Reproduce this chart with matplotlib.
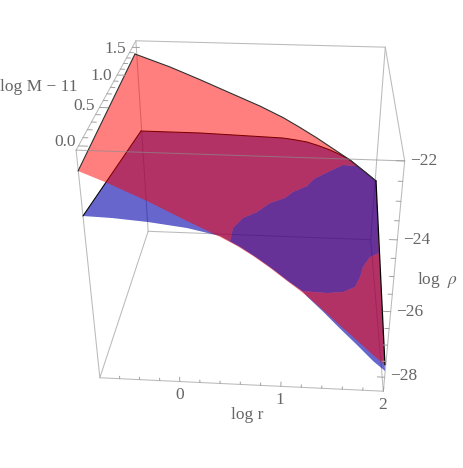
import numpy as np
import matplotlib
matplotlib.use('Agg')
import matplotlib.pyplot as plt
from mpl_toolkits.mplot3d.art3d import Poly3DCollection

plt.rcParams['font.family'] = ['Liberation Serif', 'DejaVu Serif']
plt.rcParams['mathtext.fontset'] = 'stix'

# ---- data: log r, log M - 11, log rho along the outlines of both surfaces ----
red_hi_r = [-0.81,-0.416,-0.077,0.266,0.611,0.879,1.08,1.282,1.499,1.682,1.868,2.006]
red_hi_h = [-22.356,-22.727,-23.096,-23.487,-23.878,-24.225,-24.534,-24.862,-25.243,-25.564,-25.956,-26.253]
red_lo_r = [-0.812,-0.582,-0.219,0.13,0.424,0.576,0.721,0.877,1.034,1.223,1.377,1.544,1.713,1.875,1.996]
red_lo_h = [-22.563,-22.819,-23.272,-23.761,-24.154,-24.381,-24.639,-24.954,-25.301,-25.709,-26.098,-26.536,-26.967,-27.391,-27.683]
blue_hi_r = [-0.798,-0.096,0.496,0.884,1.025,1.167,1.30,1.441,1.56,1.682,1.868,2.006]
blue_hi_h = [-24.814,-24.818,-24.866,-24.899,-24.945,-25.006,-25.112,-25.248,-25.39,-25.564,-25.956,-26.253]
blue_lo_r = [-0.81,-0.547,-0.223,0.128,0.424,0.603,0.748,0.895,1.044,1.223,1.378,1.545,1.716,1.88,2.002]
blue_lo_h = [-23.73,-23.755,-23.826,-23.948,-24.129,-24.405,-24.672,-24.97,-25.302,-25.723,-26.144,-26.628,-27.104,-27.578,-27.873]
M_high = 1.6
M_low = -0.03
# where the blue surface rises above the red one
over_top_r = [0.513,0.505,0.581,0.703,0.818,0.962,1.04,1.186,1.26,1.419,1.599,1.773]
over_top_m = [-0.03,0.2,0.338,0.467,0.626,0.766,0.878,1.034,1.161,1.345,1.548,1.647]
over_top_h = [-24.267,-24.498,-24.555,-24.691,-24.801,-24.969,-25.042,-25.203,-25.263,-25.432,-25.628,-25.863]
over_bot_r = [1.98,1.874,1.791,1.754,1.697,1.572,1.413,1.279,1.175,1.044,0.895,0.748,0.603]
over_bot_m = [0.777,0.68,0.539,0.425,0.306,0.198,0.11,0.051,0.007,-0.03,-0.03,-0.03,-0.03]
over_bot_h = [-26.62,-26.495,-26.427,-26.421,-26.386,-26.235,-26.02,-25.829,-25.682,-25.302,-24.97,-24.672,-24.405]

r_major = [0, 1, 2]
m_major = [0.0, 0.5, 1.0, 1.5]
h_major = [-22, -24, -26, -28]
r_minor = [-0.6,-0.4,-0.2,0.2,0.4,0.6,0.8,1.2,1.4,1.6,1.8]
m_minor = [0.1,0.2,0.3,0.4,0.6,0.7,0.8,0.9,1.1,1.2,1.3,1.4]
h_minor = [-22.5,-23,-23.5,-24.5,-25,-25.5,-26.5,-27,-27.5]

R0, R1, M0, M1, H0, H1 = -0.8, 2.0, -0.05, 1.63, -28.45, -22.0

# ---- layout: where the box corners sit in the picture (camera calibration) ----
W, H = 463, 468
corner_px = {(R0,M0,H1):(76,150),(R1,M0,H1):(405,161),(R1,M1,H1):(385,47),(R0,M1,H1):(136,41),
             (R0,M0,H0):(100,378),(R1,M0,H0):(383,391),(R0,M1,H0):(148,231),(R1,M1,H0):(371,240)}
rows = []
for (x, y, z), (u, v) in corner_px.items():
    rows.append([x,y,z,1,0,0,0,0,-u*x,-u*y,-u*z,-u])
    rows.append([0,0,0,0,x,y,z,1,-v*x,-v*y,-v*z,-v])
CAM = np.linalg.svd(np.array(rows, float))[2][-1].reshape(3, 4)
NULL = np.linalg.svd(CAM)[2][-1]

fig = plt.figure(figsize=(W/100, H/100), dpi=100, facecolor='white')
ax = fig.add_axes([0, 0, 1, 1], projection='3d')
ax.set_axis_off()
ax.set_proj_type('ortho')
ax.computed_zorder = False
ax.set_xlim(R0, R1); ax.set_ylim(M0, M1); ax.set_zlim(H0, H1)
ax.set_autoscale_on(False)

def camera_proj():
    ax.apply_aspect()
    inv = ax.transData.inverted()
    (x0, y0), (x1, y1) = inv.transform([(0, H), (W, 0)])  # pixel (0,0) and (W,H)
    a, b = (x1-x0)/W, x0
    c, d = (y1-y0)/H, y0
    return np.array([a*CAM[0]+b*CAM[2], c*CAM[1]+d*CAM[2], NULL, CAM[2]])
ax.get_proj = camera_proj

def poly(r, m, h, color, alpha, z):
    pc = Poly3DCollection([list(zip(r, m, h))], facecolors=[matplotlib.colors.to_rgba(color, alpha)],
                          edgecolors='none', linewidths=0, zorder=z)
    ax.add_collection3d(pc, autolim=False)

def line(r, m, h, color='#b0b0b0', lw=0.8, z=1, alpha=1.0):
    ax.plot(r, m, h, color=color, lw=lw, zorder=z, alpha=alpha, solid_capstyle='round')

# back and side edges of the box
edge_color = '#bababa'
for a, b in [((R0,M1,H1),(R1,M1,H1)), ((R0,M1,H1),(R0,M0,H1)), ((R1,M1,H1),(R1,M0,H1)),
             ((R0,M1,H1),(R0,M1,H0)), ((R1,M1,H1),(R1,M1,H0)), ((R0,M1,H0),(R1,M1,H0)),
             ((R0,M1,H0),(R0,M0,H0)), ((R1,M1,H0),(R1,M0,H0)), ((R0,M0,H1),(R0,M0,H0)),
             ((R1,M0,H1),(R1,M0,H0)), ((R0,M0,H0),(R1,M0,H0))]:
    line(*zip(a, b), color=edge_color, lw=0.75, z=1)

RED, BLUE = (1, 0, 0), (0, 0, 0.667)
A_RED, A_BLUE = 0.5, 0.6

# blue, the part under the red surface
n_bh, k = len(blue_hi_r), 5
poly(blue_hi_r[:-2] + over_top_r[::-1] + blue_lo_r[:k][::-1],
     [M_high]*(n_bh-2) + over_top_m[::-1] + [M_low]*k,
     blue_hi_h[:-2] + over_top_h[::-1] + blue_lo_h[:k][::-1], BLUE, A_BLUE, 2)
poly(over_bot_r[:1] + blue_lo_r[:8:-1] + over_bot_r[8:0:-1],
     over_bot_m[:1] + [M_low]*6 + over_bot_m[8:0:-1],
     over_bot_h[:1] + blue_lo_h[:8:-1] + over_bot_h[8:0:-1], BLUE, A_BLUE, 2)
line(blue_hi_r, [M_high]*n_bh, blue_hi_h, color='black', lw=0.75, z=3)
line([blue_lo_r[0], blue_hi_r[0]], [M_low, M_high], [blue_lo_h[0], blue_hi_h[0]], color='black', lw=0.75, z=3)

# red surface
n_rh, n_rl = len(red_hi_r), len(red_lo_r)
poly(red_hi_r + red_lo_r[::-1], [M_high]*n_rh + [M_low]*n_rl, red_hi_h + red_lo_h[::-1], RED, A_RED, 4)

# blue, the part above the red surface
poly(over_top_r + blue_hi_r[-2:] + over_bot_r,
     over_top_m + [M_high]*2 + over_bot_m,
     over_top_h + blue_hi_h[-2:] + over_bot_h, BLUE, A_BLUE, 5)

# dark outlines of the red surface and the far end
line(red_hi_r, [M_high]*n_rh, red_hi_h, color='#303030', lw=0.8, z=6)
line([red_lo_r[0], red_hi_r[0]], [M_low, M_high], [red_lo_h[0], red_hi_h[0]], color='#303030', lw=0.8, z=6)
line([red_hi_r[-1], red_lo_r[-1]], [M_high, M_low], [red_hi_h[-1], red_lo_h[-1]], color='black', lw=0.9, z=6)

# edge of the box in front of the surfaces
line([R0, R1], [M0, M0], [H1, H1], color='#8c8c8c', lw=0.75, z=7, alpha=0.65)

# ticks
tick_color = '#a0a0a0'
for v, n in [(t, 0.14) for t in r_major] + [(t, 0.08) for t in r_minor]:
    line([v, v], [M0, M0], [H0, H0+n], color=tick_color, lw=0.7, z=8)
for v, n in [(t, 0.08) for t in m_major] + [(t, 0.045) for t in m_minor]:
    line([R0, R0+n], [v, v], [H1, H1], color=tick_color, lw=0.7, z=8)
for v, n in [(t, 0.07) for t in h_major] + [(t, 0.04) for t in h_minor]:
    line([R1, R1-n], [M0, M0], [v, v], color=tick_color, lw=0.7, z=8)

# labels (placed in picture pixels)
label_color = '#666666'
FS = 12.5
def label(px, py, s, ha='center', size=FS):
    fig.text(px/W, 1-py/H, s, ha=ha, va='center', fontsize=size, color=label_color)

for t, (px, py) in zip(r_major, [(180, 395), (280, 400), (383, 405)]):
    label(px, py, str(t))
for t, (px, py) in zip(m_major, [(75.5, 141.5), (95, 105.5), (112, 76), (126, 49)]):
    label(px, py, f'{t:.1f}', ha='right')
for t, (px, py) in zip(h_major, [(437, 161), (430, 240), (423, 312), (417, 376)]):
    label(px, py, '\u2212' + str(abs(t)), ha='right')
label(247, 415, 'log r')
label(0, 87, 'log M \u2212 11', ha='left')
label(438, 280, 'log  $\\rho$')

fig.savefig('out.png', dpi=100)
